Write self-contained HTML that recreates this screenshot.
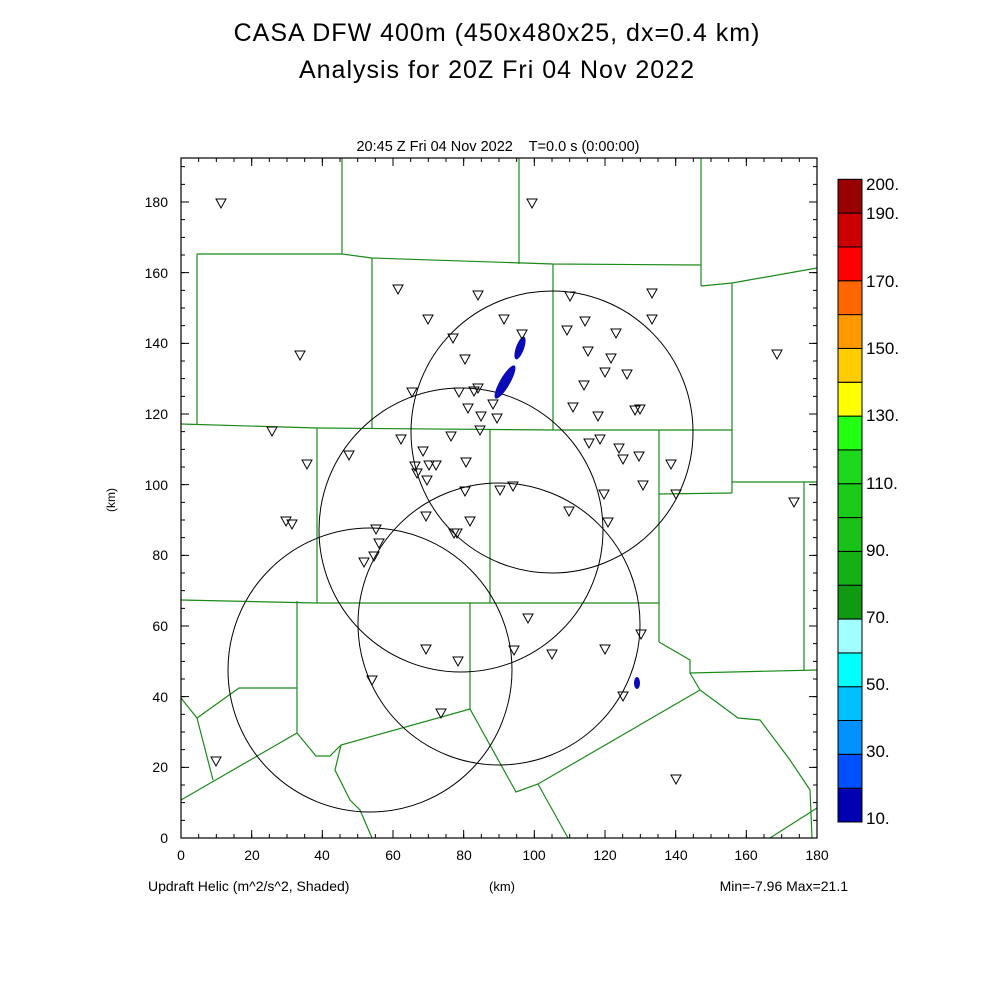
<!DOCTYPE html>
<html><head><style>body{margin:0;background:#fff}svg text{font-family:"Liberation Sans",sans-serif}</style></head><body>
<svg width="1000" height="1000" viewBox="0 0 1000 1000" xmlns="http://www.w3.org/2000/svg">
<rect width="1000" height="1000" fill="#fff"/>
<text x="497" y="41" font-size="25" text-anchor="middle" letter-spacing="1">CASA DFW 400m (450x480x25, dx=0.4 km)</text>
<text x="497" y="78" font-size="25" text-anchor="middle" letter-spacing="1">Analysis for 20Z Fri 04 Nov 2022</text>
<text x="498" y="151" font-size="14.5" text-anchor="middle" xml:space="preserve">20:45 Z Fri 04 Nov 2022    T=0.0 s (0:00:00)</text>
<g fill="none" stroke="#1a8a1a" stroke-width="1.2">
<polyline points="342,158 342,254"/><polyline points="519,158 519,264"/><polyline points="701,158 701,286"/>
<polyline points="197,254 342,254 372,258 553,264 701,265"/>
<polyline points="701,286 732,283 817,268"/>
<polyline points="197,254 197,424"/>
<polyline points="181,424 317,428 553,430 732,430"/>
<polyline points="372,258 372,428"/><polyline points="553,264 553,430"/>
<polyline points="732,283 732,493"/><polyline points="659,494 732,493"/><polyline points="732,482 817,482"/>
<polyline points="317,428 317,603"/><polyline points="490,430 490,603"/><polyline points="659,430 659,642"/>
<polyline points="181,600 317,603 659,603"/>
<polyline points="297,601 297,733"/><polyline points="470,603 470,709"/>
<polyline points="181,698 197,718 239,688 297,688"/><polyline points="197,718 213,780"/>
<polyline points="181,800 297,733 316,756 330,756 341,745 470,709 516,792 538,784 700,690"/>
<polyline points="659,642 690,660 690,673 817,670"/><polyline points="804,482 804,670"/>
<polyline points="690,673 700,690 738,718 760,720 790,760 810,790 812,838"/>
<polyline points="341,745 335,770 350,800 360,810 372,838"/>
<polyline points="538,784 568,838"/><polyline points="770,838 817,808"/>
</g>
<g fill="none" stroke="#000" stroke-width="1">
<circle cx="552" cy="432" r="141"/><circle cx="461" cy="530" r="142"/><circle cx="499" cy="624" r="141"/><circle cx="370" cy="670" r="142"/>
</g>
<g fill="#0a0ab8">
<ellipse cx="505" cy="382" rx="5" ry="19" transform="rotate(30 505 382)"/>
<ellipse cx="520" cy="348" rx="4" ry="12" transform="rotate(20 520 348)"/>
<ellipse cx="637" cy="683" rx="3" ry="6"/>
</g>
<g fill="none" stroke="#000" stroke-width="1">
<path d="M221,203 m-5,-4 h10 l-5,9 z M532,203 m-5,-4 h10 l-5,9 z M398,289 m-5,-4 h10 l-5,9 z M478,295 m-5,-4 h10 l-5,9 z M570,296 m-5,-4 h10 l-5,9 z M652,293 m-5,-4 h10 l-5,9 z M300,355 m-5,-4 h10 l-5,9 z M428,319 m-5,-4 h10 l-5,9 z M504,319 m-5,-4 h10 l-5,9 z M585,321 m-5,-4 h10 l-5,9 z M652,319 m-5,-4 h10 l-5,9 z M453,338 m-5,-4 h10 l-5,9 z M522,334 m-5,-4 h10 l-5,9 z M567,330 m-5,-4 h10 l-5,9 z M616,333 m-5,-4 h10 l-5,9 z M777,354 m-5,-4 h10 l-5,9 z M465,359 m-5,-4 h10 l-5,9 z M588,351 m-5,-4 h10 l-5,9 z M611,358 m-5,-4 h10 l-5,9 z M605,372 m-5,-4 h10 l-5,9 z M627,374 m-5,-4 h10 l-5,9 z M584,385 m-5,-4 h10 l-5,9 z M412,392 m-5,-4 h10 l-5,9 z M459,392 m-5,-4 h10 l-5,9 z M474,391 m-5,-4 h10 l-5,9 z M478,388 m-5,-4 h10 l-5,9 z M493,404 m-5,-4 h10 l-5,9 z M573,407 m-5,-4 h10 l-5,9 z M635,410 m-5,-4 h10 l-5,9 z M640,409 m-5,-4 h10 l-5,9 z M598,416 m-5,-4 h10 l-5,9 z M468,408 m-5,-4 h10 l-5,9 z M481,416 m-5,-4 h10 l-5,9 z M497,418 m-5,-4 h10 l-5,9 z M272,431 m-5,-4 h10 l-5,9 z M480,430 m-5,-4 h10 l-5,9 z M401,439 m-5,-4 h10 l-5,9 z M451,436 m-5,-4 h10 l-5,9 z M589,443 m-5,-4 h10 l-5,9 z M600,439 m-5,-4 h10 l-5,9 z M619,448 m-5,-4 h10 l-5,9 z M423,451 m-5,-4 h10 l-5,9 z M623,459 m-5,-4 h10 l-5,9 z M639,456 m-5,-4 h10 l-5,9 z M349,455 m-5,-4 h10 l-5,9 z M415,466 m-5,-4 h10 l-5,9 z M429,465 m-5,-4 h10 l-5,9 z M436,465 m-5,-4 h10 l-5,9 z M417,473 m-5,-4 h10 l-5,9 z M466,462 m-5,-4 h10 l-5,9 z M307,464 m-5,-4 h10 l-5,9 z M671,464 m-5,-4 h10 l-5,9 z M427,480 m-5,-4 h10 l-5,9 z M643,485 m-5,-4 h10 l-5,9 z M465,491 m-5,-4 h10 l-5,9 z M513,486 m-5,-4 h10 l-5,9 z M500,490 m-5,-4 h10 l-5,9 z M604,494 m-5,-4 h10 l-5,9 z M676,494 m-5,-4 h10 l-5,9 z M569,511 m-5,-4 h10 l-5,9 z M426,516 m-5,-4 h10 l-5,9 z M470,521 m-5,-4 h10 l-5,9 z M286,521 m-5,-4 h10 l-5,9 z M292,524 m-5,-4 h10 l-5,9 z M608,522 m-5,-4 h10 l-5,9 z M376,529 m-5,-4 h10 l-5,9 z M454,533 m-5,-4 h10 l-5,9 z M457,533 m-5,-4 h10 l-5,9 z M379,543 m-5,-4 h10 l-5,9 z M374,556 m-5,-4 h10 l-5,9 z M364,562 m-5,-4 h10 l-5,9 z M528,618 m-5,-4 h10 l-5,9 z M641,634 m-5,-4 h10 l-5,9 z M426,649 m-5,-4 h10 l-5,9 z M458,661 m-5,-4 h10 l-5,9 z M514,650 m-5,-4 h10 l-5,9 z M552,654 m-5,-4 h10 l-5,9 z M605,649 m-5,-4 h10 l-5,9 z M372,680 m-5,-4 h10 l-5,9 z M623,696 m-5,-4 h10 l-5,9 z M441,713 m-5,-4 h10 l-5,9 z M216,761 m-5,-4 h10 l-5,9 z M676,779 m-5,-4 h10 l-5,9 z M794,502 m-5,-4 h10 l-5,9 z"/>
</g>
<rect x="181" y="158" width="636" height="680" fill="none" stroke="#000" stroke-width="1.2"/>
<g stroke="#000" fill="none">
<line x1="180.5" y1="836" x2="818" y2="836" stroke-width="4" stroke-dasharray="1 16.667"/>
<line x1="180.5" y1="834" x2="818" y2="834" stroke-width="8" stroke-dasharray="1 69.667"/>
<line x1="180.5" y1="160" x2="818" y2="160" stroke-width="4" stroke-dasharray="1 16.667"/>
<line x1="180.5" y1="162" x2="818" y2="162" stroke-width="8" stroke-dasharray="1 69.667"/>
<line x1="183" y1="838.5" x2="183" y2="158" stroke-width="4" stroke-dasharray="1 16.667"/>
<line x1="185" y1="838.5" x2="185" y2="158" stroke-width="8" stroke-dasharray="1 69.667"/>
<line x1="815" y1="838.5" x2="815" y2="158" stroke-width="4" stroke-dasharray="1 16.667"/>
<line x1="813" y1="838.5" x2="813" y2="158" stroke-width="8" stroke-dasharray="1 69.667"/>
</g>
<g font-size="14" text-anchor="middle">
<text x="181" y="860">0</text><text x="252" y="860">20</text><text x="322" y="860">40</text><text x="393" y="860">60</text><text x="464" y="860">80</text><text x="534" y="860">100</text><text x="605" y="860">120</text><text x="676" y="860">140</text><text x="746" y="860">160</text><text x="817" y="860">180</text>
</g>
<g font-size="14" text-anchor="end">
<text x="168" y="843">0</text><text x="168" y="772">20</text><text x="168" y="702">40</text><text x="168" y="631">60</text><text x="168" y="560">80</text><text x="168" y="490">100</text><text x="168" y="419">120</text><text x="168" y="348">140</text><text x="168" y="278">160</text><text x="168" y="207">180</text>
</g>
<text x="115" y="500" font-size="12" text-anchor="middle" transform="rotate(-90 115 500)">(km)</text>
<text x="148" y="891" font-size="14">Updraft Helic (m^2/s^2, Shaded)</text>
<text x="502" y="891" font-size="13" text-anchor="middle">(km)</text>
<text x="848" y="891" font-size="14" text-anchor="end">Min=-7.96 Max=21.1</text>
<g stroke="#000" stroke-width="1">
<rect x="838" y="788.2" width="24" height="33.8" fill="#0000b0"/>
<rect x="838" y="754.4" width="24" height="33.8" fill="#0050ff"/>
<rect x="838" y="720.5" width="24" height="33.8" fill="#0090ff"/>
<rect x="838" y="686.7" width="24" height="33.8" fill="#00c0ff"/>
<rect x="838" y="652.9" width="24" height="33.8" fill="#00ffff"/>
<rect x="838" y="619.1" width="24" height="33.8" fill="#a0ffff"/>
<rect x="838" y="585.2" width="24" height="33.8" fill="#119911"/>
<rect x="838" y="551.4" width="24" height="33.8" fill="#15b015"/>
<rect x="838" y="517.6" width="24" height="33.8" fill="#18c018"/>
<rect x="838" y="483.7" width="24" height="33.8" fill="#1acb1a"/>
<rect x="838" y="449.9" width="24" height="33.8" fill="#1dd81d"/>
<rect x="838" y="416.1" width="24" height="33.8" fill="#22ff12"/>
<rect x="838" y="382.3" width="24" height="33.8" fill="#ffff00"/>
<rect x="838" y="348.4" width="24" height="33.8" fill="#ffcc00"/>
<rect x="838" y="314.6" width="24" height="33.8" fill="#ff9900"/>
<rect x="838" y="280.8" width="24" height="33.8" fill="#ff6600"/>
<rect x="838" y="246.9" width="24" height="33.8" fill="#ff0000"/>
<rect x="838" y="213.1" width="24" height="33.8" fill="#cc0000"/>
<rect x="838" y="179.3" width="24" height="33.8" fill="#990000"/>
</g>
<g font-size="17">
<text x="866" y="190">200.</text><text x="866" y="219">190.</text><text x="866" y="287">170.</text><text x="866" y="354">150.</text><text x="866" y="421">130.</text><text x="866" y="489">110.</text><text x="866" y="556">90.</text><text x="866" y="623">70.</text><text x="866" y="690">50.</text><text x="866" y="757">30.</text><text x="866" y="824">10.</text>
</g>
</svg>
</body></html>
